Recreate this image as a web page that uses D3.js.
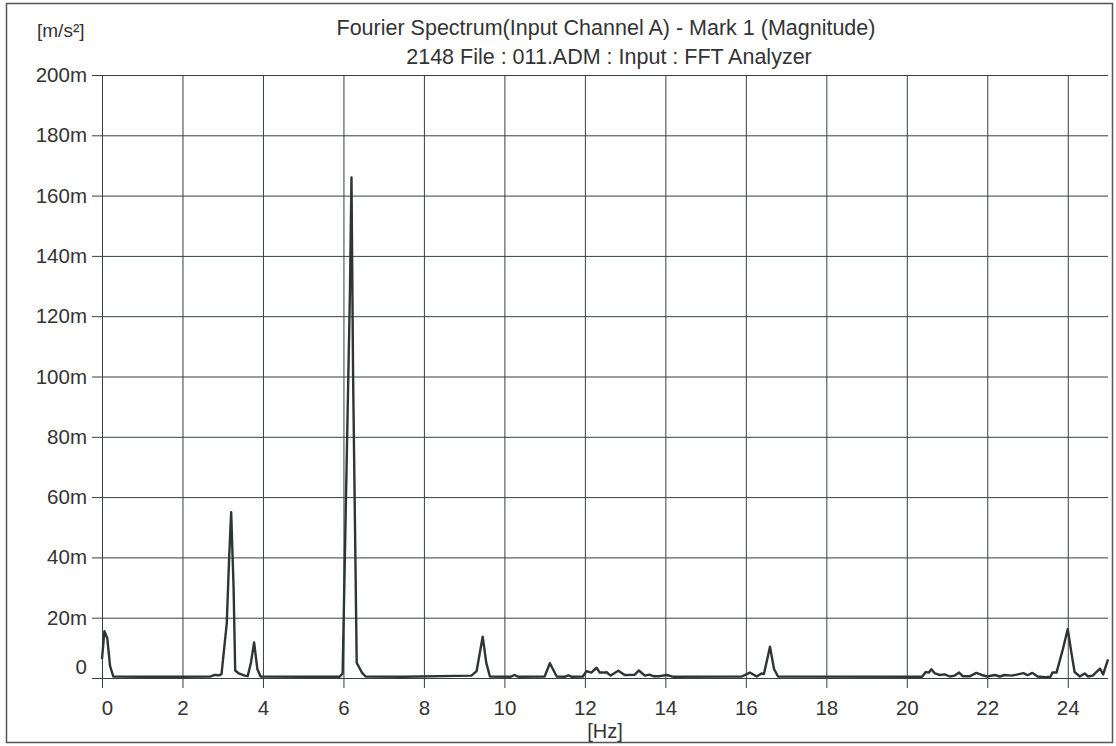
<!DOCTYPE html>
<html>
<head>
<meta charset="utf-8">
<script src="https://cdn.jsdelivr.net/npm/d3@7"></script>
<style>
  body { margin: 0; background: #fff; }
  svg { display: block; font-family: "Liberation Sans", Arial, sans-serif; }
</style>
</head>
<body>
<svg id="chart" width="1116" height="746"></svg>
<script>
// spectrum (frequency in Hz, magnitude in milli m/s^2)
const freq = [
  0.00, 0.06, 0.13, 0.20, 0.28, 1.00, 2.00, 2.70, 2.80, 2.90,
  2.97, 3.10, 3.16, 3.21, 3.27, 3.31, 3.40, 3.55, 3.62, 3.70,
  3.78, 3.86, 3.94, 5.00, 5.90, 5.98, 6.16, 6.20, 6.24, 6.33,
  6.36, 6.46, 6.55, 7.50, 9.18, 9.31, 9.46, 9.55, 9.64, 10.15,
  10.25, 10.35, 11.00, 11.13, 11.30, 11.50, 11.59, 11.68, 11.95, 12.04,
  12.16, 12.29, 12.37, 12.46, 12.54, 12.64, 12.83, 12.99, 13.24, 13.34,
  13.49, 13.60, 13.70, 13.86, 14.04, 14.20, 15.90, 16.10, 16.27, 16.39,
  16.45, 16.60, 16.70, 16.80, 20.38, 20.47, 20.55, 20.61, 20.70, 20.82,
  20.94, 21.07, 21.19, 21.30, 21.39, 21.57, 21.73, 21.86, 22.00, 22.19,
  22.31, 22.43, 22.61, 22.76, 22.90, 23.00, 23.12, 23.25, 23.45, 23.57,
  23.62, 23.72, 23.88, 24.00, 24.10, 24.17, 24.30, 24.42, 24.50, 24.62,
  24.80, 24.88, 25.00
];
const mag = [
  6.3, 15.5, 13.3, 4.0, 0.5, 0.4, 0.4, 0.5, 1.0, 0.9,
  1.3, 18, 40, 55, 30, 2.5, 1.5, 0.8, 0.6, 5,
  11.8, 3, 0.5, 0.4, 0.4, 1.5, 127, 166, 100, 5,
  4.3, 1.8, 0.5, 0.4, 0.8, 2.3, 13.7, 5, 0.5, 0.4,
  1.0, 0.4, 0.5, 4.9, 0.5, 0.4, 0.9, 0.4, 0.5, 2.3,
  1.8, 3.4, 1.8, 1.8, 1.9, 0.8, 2.4, 1.0, 1.1, 2.5,
  0.8, 1.1, 0.6, 0.6, 1.0, 0.4, 0.5, 1.8, 0.5, 1.5,
  1.3, 10.4, 3, 0.5, 0.4, 2.0, 1.8, 2.9, 1.5, 1.0,
  1.2, 0.5, 0.8, 1.8, 0.6, 0.6, 1.7, 1.0, 0.5, 1.0,
  0.5, 1.0, 0.8, 1.2, 1.6, 0.9, 1.7, 0.5, 0.3, 0.4,
  1.8, 1.8, 9.6, 16.2, 7.6, 2, 0.5, 1.5, 0.5, 0.8,
  3.1, 1.2, 6.2
];
const xTicks = [0, 2, 4, 6, 8, 10, 12, 14, 16, 18, 20, 22, 24];
const yTicks = [0, 20, 40, 60, 80, 100, 120, 140, 160, 180, 200];

const title = "Fourier Spectrum(Input Channel A) - Mark 1 (Magnitude)";
const subtitle = "2148 File : 011.ADM : Input : FFT Analyzer";
const yUnit = "[m/s\u00b2]";
const xUnit = "[Hz]";

const margin = { top: 75, right: 8, bottom: 68, left: 102 };
const width = 1116 - margin.left - margin.right;
const height = 746 - margin.top - margin.bottom;

const ink = "#3a3f3f";

let svg = d3.select("#chart");

// outer frame
svg.append("rect")
  .attr("x", 6.5).attr("y", 3.5)
  .attr("width", 1106).attr("height", 739)
  .attr("fill", "none")
  .attr("stroke", "#555")
  .attr("stroke-width", 1.5);

let g = svg.append("g")
  .attr("transform", "translate(" + margin.left + "," + margin.top + ")");

let xScale = d3.scaleLinear().domain([0, 25]).range([0, width]);
let yScale = d3.scaleLinear().domain([0, 200]).range([height, 0]);

// horizontal grid + y axis
let yAxis = g.append("g")
  .call(d3.axisLeft(yScale)
    .tickValues(yTicks)
    .tickSize(-width)
    .tickPadding(15)
    .tickFormat(d => d === 0 ? "0" : d + "m"));
yAxis.select(".domain").remove();
yAxis.selectAll(".tick line")
  .attr("x1", -10)
  .attr("stroke", ink);
yAxis.selectAll(".tick text")
  .attr("font-size", 20.5)
  .attr("fill", "#333")
  .attr("dy", d => d === 0 ? "-0.2em" : "0.32em");

// vertical grid + x axis
let xAxis = g.append("g")
  .attr("transform", "translate(0," + height + ")")
  .call(d3.axisBottom(xScale)
    .tickValues(xTicks)
    .tickSize(10)
    .tickPadding(12)
    .tickFormat(d3.format("d")));
xAxis.select(".domain").remove();
xAxis.selectAll(".tick line")
  .attr("y1", -height)
  .attr("stroke", ink);
xAxis.selectAll(".tick text")
  .attr("font-size", 20.5)
  .attr("fill", "#333")
  .attr("dx", d => d === 0 ? 5 : 0);

// spectrum line
let line = d3.line()
  .x(d => xScale(d[0]))
  .y(d => yScale(d[1]));

g.append("path")
  .datum(d3.zip(freq, mag))
  .attr("d", line)
  .attr("fill", "none")
  .attr("stroke", "#2f3434")
  .attr("stroke-width", 2.4)
  .attr("stroke-linejoin", "round");

// texts
svg.append("text")
  .attr("x", 606).attr("y", 35)
  .attr("text-anchor", "middle")
  .attr("font-size", 21.5)
  .attr("fill", "#333")
  .text(title);

svg.append("text")
  .attr("x", 609).attr("y", 64)
  .attr("text-anchor", "middle")
  .attr("font-size", 21.5)
  .attr("fill", "#333")
  .text(subtitle);

svg.append("text")
  .attr("x", 37).attr("y", 37)
  .attr("font-size", 19)
  .attr("fill", "#333")
  .text(yUnit);

svg.append("text")
  .attr("x", 605).attr("y", 738)
  .attr("text-anchor", "middle")
  .attr("font-size", 20)
  .attr("fill", "#333")
  .text(xUnit);
</script>
</body>
</html>
